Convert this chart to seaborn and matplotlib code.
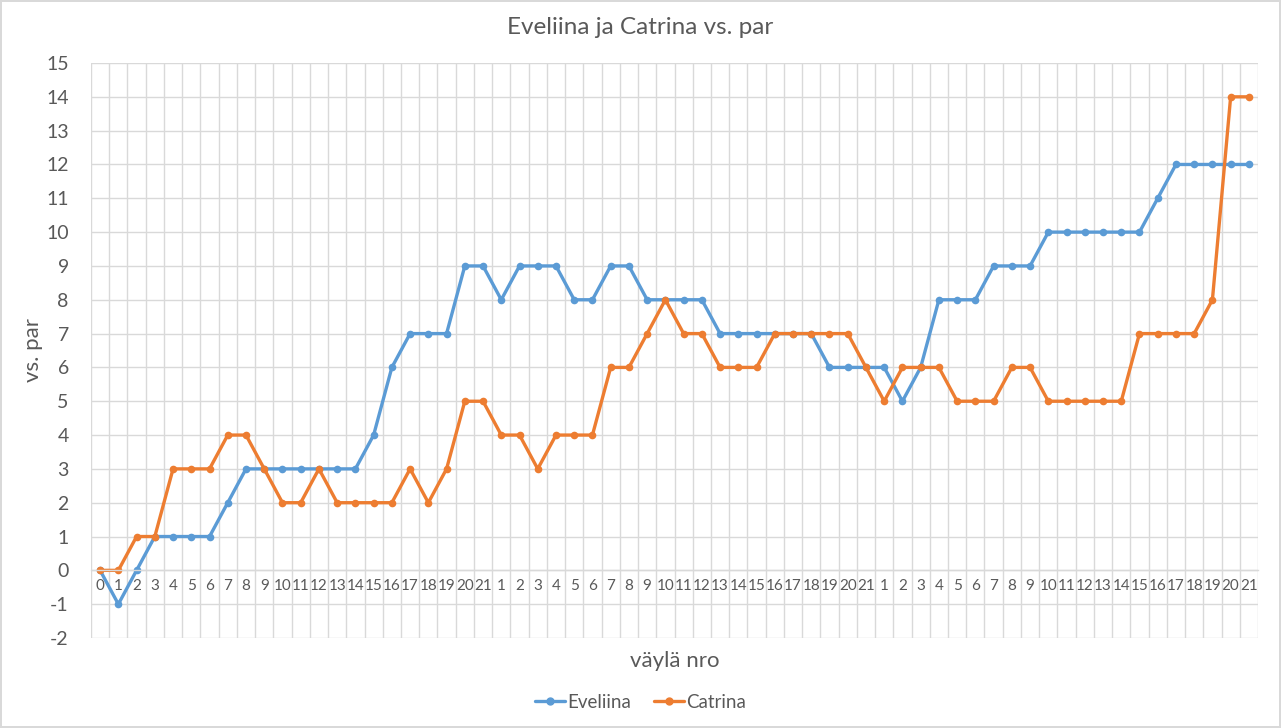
import matplotlib.pyplot as plt
import seaborn as sns
import pandas
from matplotlib.ticker import FixedLocator

# hole labels: round 1 starts from 0, the next two rounds 1..21
holes = [str(h) for h in range(0, 22)] + [str(h) for h in range(1, 22)] * 2

eveliina = [0, -1, 0, 1, 1, 1, 1, 2, 3, 3, 3, 3, 3, 3, 3, 4, 6, 7, 7, 7, 9, 9,
            8, 9, 9, 9, 8, 8, 9, 9, 8, 8, 8, 8, 7, 7, 7, 7, 7, 7, 6, 6, 6,
            6, 5, 6, 8, 8, 8, 9, 9, 9, 10, 10, 10, 10, 10, 10, 11, 12, 12, 12, 12, 12]
catrina = [0, 0, 1, 1, 3, 3, 3, 4, 4, 3, 2, 2, 3, 2, 2, 2, 2, 3, 2, 3, 5, 5,
           4, 4, 3, 4, 4, 4, 6, 6, 7, 8, 7, 7, 6, 6, 6, 7, 7, 7, 7, 7, 6,
           5, 6, 6, 6, 5, 5, 5, 6, 6, 5, 5, 5, 5, 5, 7, 7, 7, 7, 8, 14, 14]

players = ["Eveliina", "Catrina"]
colors = ["#5B9BD5", "#ED7D31"]

pos = list(range(len(holes)))
df = pandas.DataFrame({
    "pos": pos * 2,
    "vs. par": eveliina + catrina,
    "pelaaja": ["Eveliina"] * len(pos) + ["Catrina"] * len(pos),
})

sns.set_style("white")
plt.rcParams['font.family'] = ['Lato', 'DejaVu Sans']
plt.rcParams['axes.unicode_minus'] = False
txt = "#595959"
grid = "#D9D9D9"

fig = plt.figure(figsize=(12.81, 7.28), dpi=100)
fig.patch.set_edgecolor(grid)
fig.patch.set_linewidth(1.5)
ax = fig.add_axes([91 / 1281, 1 - 638 / 728, (1258 - 91) / 1281, (638 - 63) / 728])

sns.lineplot(data=df, x="pos", y="vs. par", hue="pelaaja", hue_order=players,
             palette=colors, marker="o", markersize=5.5, markeredgewidth=0,
             linewidth=2.4, ax=ax, legend=False)

ax.set_xlim(-0.5, len(holes) - 0.5)
ax.set_ylim(-2, 15)
ax.set_yticks(range(-2, 16))
ax.set_xticks(pos)
ax.set_xticklabels(holes)
ax.xaxis.set_minor_locator(FixedLocator([p - 0.5 for p in pos] + [len(holes) - 0.5]))

ax.grid(axis="y", which="major", color=grid, linewidth=1)
ax.grid(axis="x", which="minor", color=grid, linewidth=1)
ax.grid(axis="x", which="major", visible=False)
ax.set_axisbelow(True)

for s in ["top", "right", "left"]:
    ax.spines[s].set_visible(False)
ax.spines["bottom"].set_position(("data", 0))
ax.spines["bottom"].set_color(grid)
ax.spines["bottom"].set_linewidth(1)

ax.tick_params(axis="x", which="both", length=0, pad=6, labelsize=11, labelcolor=txt)
ax.tick_params(axis="y", length=0, pad=16, labelsize=14, labelcolor=txt)

ax.set_xlabel("väylä nro", fontsize=16, color=txt)
ax.xaxis.set_label_coords(0.5, -0.022)
ax.set_ylabel("vs. par", fontsize=16, color=txt)
ax.yaxis.set_label_coords(-0.041, 0.5)

fig.text(0.5, 1 - 28 / 728, "Eveliina ja Catrina vs. par", ha="center", va="center",
         fontsize=17.5, color=txt)

handles = [plt.Line2D([], [], color=c, marker="o", markersize=5, linewidth=2.4) for c in colors]
fig.legend(handles, players, loc="center", bbox_to_anchor=(0.5, 1 - 702 / 728), ncol=2,
           frameon=False, fontsize=13.5, labelcolor=txt, handlelength=1.6,
           handletextpad=0.15, columnspacing=1.2)

plt.savefig("out.png", dpi=100)
plt.close(fig)
